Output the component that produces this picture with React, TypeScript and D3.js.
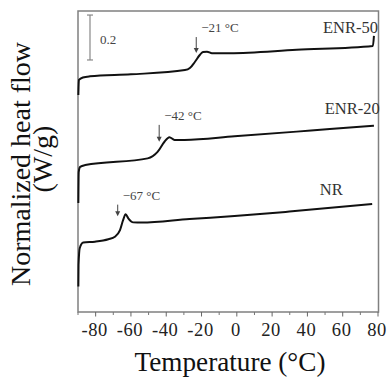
import { useMemo } from "react";
import * as d3 from "d3";

/* ------------------------------------------------------------------ */
/*  Data                                       */
/* ------------------------------------------------------------------ */

type Pt = [number, number]; // [temperature °C, heat flow W/g (offset)]

const enr50: Pt[] = [
  [-89.8, 0.966], [-89.5, 1.033], [-87.2, 1.044], [-83.2, 1.049], [-60, 1.058],
  [-29.4, 1.077], [-26.6, 1.086], [-23.8, 1.113], [-21, 1.144], [-19.2, 1.158],
  [-16.9, 1.159], [-14.1, 1.152], [-3.9, 1.152], [33.9, 1.167], [77.1, 1.184],
  [77.7, 1.229],
];

const enr20: Pt[] = [
  [-89.8, 0.485], [-89.6, 0.623], [-88.8, 0.646], [-85.9, 0.654], [-50.5, 0.684],
  [-44.8, 0.714], [-41, 0.758], [-38.2, 0.778], [-35.3, 0.766], [-29.6, 0.766],
  [-1.3, 0.782], [33.9, 0.803], [52.7, 0.815], [77.7, 0.829],
];

const nr: Pt[] = [
  [-89.8, 0.113], [-89.7, 0.209], [-89.0, 0.285], [-87.0, 0.309], [-80.4, 0.313],
  [-72.8, 0.324], [-69.1, 0.335], [-66.2, 0.365], [-64.4, 0.41], [-63.0, 0.435],
  [-61.5, 0.417], [-58.7, 0.399], [-54, 0.398], [-26.8, 0.414], [-1.3, 0.427],
  [29.8, 0.447], [76.7, 0.481],
];

const seriesNames = ["ENR-50", "ENR-20", "NR"];
const seriesData = [enr50, enr20, nr];

// glass transition markers: arrow temperature, arrow top/bottom values, label
const tgLabels = ["\u221221 \u00B0C", "\u221242 \u00B0C", "\u221267 \u00B0C"];
const tgArrowAt = [-23, -44, -67.5];
const tgArrowTop = [1.224, 0.833, 0.478];
const tgArrowBottom = [1.153, 0.758, 0.426];

const xTicks = [-80, -60, -40, -20, 0, 20, 40, 60, 80];
const xMinorTicks = [-90, -70, -50, -30, -10, 10, 30, 50, 70];

const scaleBarValue = 0.2;
const scaleBarTop = 1.322;
const scaleBarAt = -83.2;

/* ------------------------------------------------------------------ */
/*  Component                                                         */
/* ------------------------------------------------------------------ */

const W = 390;
const H = 377;
const margin = { top: 11, right: 11, bottom: 65, left: 78 };
const serif = "'Liberation Serif', 'Times New Roman', serif";

export default function App() {
  const x = useMemo(
    () => d3.scaleLinear().domain([-90, 80]).range([margin.left, margin.left + 300]),
    [],
  );
  const y = useMemo(
    () => d3.scaleLinear().domain([0, 1.34]).range([H - margin.bottom, margin.top]),
    [],
  );
  const line = d3
    .line<Pt>()
    .x((d) => x(d[0]))
    .y((d) => y(d[1]))
    .curve(d3.curveMonotoneX);

  const x0 = margin.left;
  const x1 = margin.left + 300.5;
  const y0 = y(0);
  const yTop = margin.top;

  // series label placement (anchor, temperature, value)
  const labelPos: { anchor: "start" | "end"; t: number; v: number }[] = [
    { anchor: "end", t: 80, v: 1.241 },
    { anchor: "end", t: 81, v: 0.880 },
    { anchor: "start", t: 47, v: 0.521 },
  ];

  return (
    <svg
      width={W}
      height={H}
      style={{ position: "absolute", left: 0, top: 0, background: "#fff" }}
      fontFamily={serif}
    >
      {/* frame */}
      <path
        d={`M${x0},${y0} L${x0},${yTop} L${x1},${yTop} L${x1},${y0} Z`}
        fill="none"
        stroke="#808080"
        strokeWidth={1.5}
      />

      {/* bottom ticks */}
      {xTicks.map((t) => (
        <g key={t}>
          <line x1={x(t)} x2={x(t)} y1={y0} y2={y0 + 4.5} stroke="#666" strokeWidth={1} />
          <text
            x={x(t) - 1}
            y={336}
            textAnchor="middle"
            fontSize={18.5}
            letterSpacing={0.6}
            fill="#222"
          >
            {t}
          </text>
        </g>
      ))}
      {xMinorTicks.map((t) => (
        <line key={t} x1={x(t)} x2={x(t)} y1={y0} y2={y0 + 3} stroke="#777" strokeWidth={1} />
      ))}

      {/* axis titles */}
      <text x={230} y={371} textAnchor="middle" fontSize={27.2} fill="#111">
        Temperature (°C)
      </text>
      <text
        transform="translate(30,164) rotate(-90)"
        textAnchor="middle"
        fontSize={28}
        fill="#111"
      >
        Normalized heat flow
      </text>
      <text
        transform="translate(52,159) rotate(-90)"
        textAnchor="middle"
        fontSize={28}
        fill="#111"
      >
        (W/g)
      </text>

      {/* scale bar */}
      <g stroke="#888" strokeWidth={1.2}>
        <line x1={x(scaleBarAt)} x2={x(scaleBarAt)} y1={y(scaleBarTop)} y2={y(scaleBarTop - scaleBarValue)} />
        <line x1={x(scaleBarAt) - 3} x2={x(scaleBarAt) + 3} y1={y(scaleBarTop)} y2={y(scaleBarTop)} />
        <line
          x1={x(scaleBarAt) - 3}
          x2={x(scaleBarAt) + 3}
          y1={y(scaleBarTop - scaleBarValue)}
          y2={y(scaleBarTop - scaleBarValue)}
        />
      </g>
      <text x={100} y={43.5} fontSize={13} fill="#444">
        {scaleBarValue}
      </text>

      {/* curves */}
      {seriesData.map((s, i) => (
        <path
          key={seriesNames[i]}
          d={line(s) ?? ""}
          fill="none"
          stroke="#111"
          strokeWidth={2}
          strokeLinejoin="round"
        />
      ))}

      {/* series labels */}
      {seriesNames.map((n, i) => (
        <text
          key={n}
          x={x(labelPos[i].t)}
          y={y(labelPos[i].v)}
          textAnchor={labelPos[i].anchor}
          fontSize={16.5}
          fill="#333"
        >
          {n}
        </text>
      ))}

      {/* Tg arrows */}
      {tgLabels.map((lab, i) => {
        const ax = x(tgArrowAt[i]);
        const ya = y(tgArrowTop[i]);
        const yb = y(tgArrowBottom[i]);
        return (
          <g key={lab}>
            <line x1={ax} x2={ax} y1={ya} y2={yb - 3} stroke="#444" strokeWidth={1} />
            <path d={`M${ax - 2.5},${yb - 5} L${ax},${yb} L${ax + 2.5},${yb - 5} Z`} fill="#444" />
            <text x={ax + 5} y={ya - 5} fontSize={13} fill="#444">
              {lab}
            </text>
          </g>
        );
      })}
    </svg>
  );
}
